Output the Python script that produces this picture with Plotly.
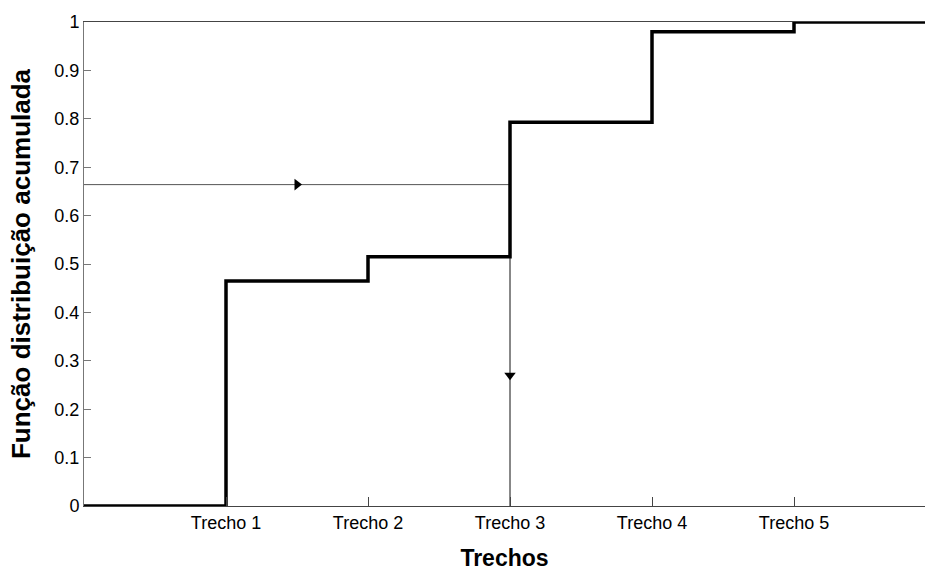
import plotly.graph_objects as go

# Data
trecho_edges = [0, 1, 2, 3, 4, 5, 6]
cdf_values = [0, 0.465, 0.515, 0.793, 0.98, 1.0, 1.0]
tick_positions = [1, 2, 3, 4, 5]
tick_labels = ["Trecho 1", "Trecho 2", "Trecho 3", "Trecho 4", "Trecho 5"]
y_ticks = [0, 0.1, 0.2, 0.3, 0.4, 0.5, 0.6, 0.7, 0.8, 0.9, 1]
y_tick_labels = ["0", "0.1", "0.2", "0.3", "0.4", "0.5", "0.6", "0.7", "0.8", "0.9", "1"]
random_draw = 0.664
selected_trecho = 3
h_arrow_x = 1.5
v_arrow_y = 0.27

FONT = "Liberation Sans, Arial, sans-serif"

fig = go.Figure()

# guide lines
fig.add_trace(go.Scatter(x=[0, selected_trecho], y=[random_draw, random_draw], mode="lines",
                         line=dict(color="#555555", width=1), showlegend=False, hoverinfo="skip"))
fig.add_trace(go.Scatter(x=[selected_trecho, selected_trecho], y=[random_draw, 0], mode="lines",
                         line=dict(color="#111111", width=1), showlegend=False, hoverinfo="skip"))

# step CDF
fig.add_trace(go.Scatter(x=trecho_edges, y=cdf_values, mode="lines", line_shape="hv",
                         line=dict(color="black", width=3.5), showlegend=False))

# arrow heads
fig.add_trace(go.Scatter(x=[h_arrow_x], y=[random_draw], mode="markers",
                         marker=dict(symbol="triangle-right", size=10, color="black"),
                         showlegend=False, hoverinfo="skip"))
fig.add_trace(go.Scatter(x=[selected_trecho], y=[v_arrow_y], mode="markers",
                         marker=dict(symbol="triangle-down", size=10, color="black"),
                         showlegend=False, hoverinfo="skip"))

fig.update_layout(
    width=925, height=571,
    margin=dict(l=84, r=0, t=22, b=63),
    paper_bgcolor="white", plot_bgcolor="white",
    font=dict(family=FONT, color="black", size=17),
)
fig.update_xaxes(
    range=[0, 841 / 142], tickvals=tick_positions, ticktext=tick_labels,
    ticks="inside", ticklen=9, tickcolor="#444444", tickwidth=1,
    showline=True, linecolor="#444444", linewidth=1, mirror=True,
    showgrid=False, zeroline=False,
    tickfont=dict(family=FONT, size=18, color="black"),
    title=dict(text="<b>Trechos</b>", font=dict(family=FONT, size=23, color="black"), standoff=22),
)
fig.update_yaxes(
    range=[0, 1], tickvals=y_ticks, ticktext=y_tick_labels,
    ticks="inside", ticklen=7, tickcolor="#777777", tickwidth=1,
    showline=True, linecolor="#777777", linewidth=1,
    showgrid=False, zeroline=False,
    tickfont=dict(family=FONT, size=18, color="black"),
    title=dict(text="<b>Função distribuição acumulada</b>", font=dict(family=FONT, size=26, color="black"), standoff=16),
)

fig.write_html("out.html", config={"displayModeBar": False},
               post_script="document.body.style.margin='0';document.body.style.overflow='hidden';")
